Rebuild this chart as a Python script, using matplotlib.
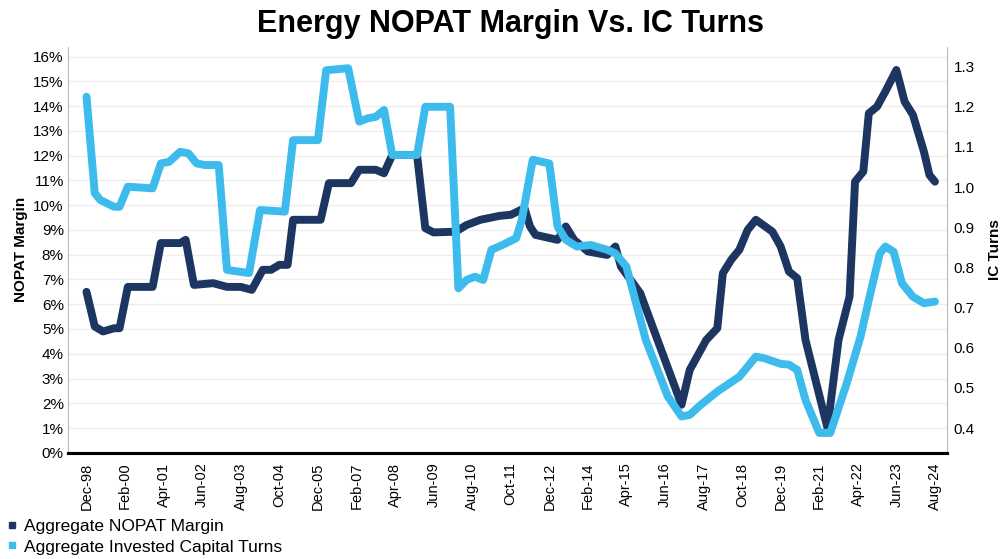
import numpy as np
import matplotlib
matplotlib.use('Agg')
import matplotlib.pyplot as plt
from matplotlib.lines import Line2D

plt.rcParams['font.family'] = ['Liberation Sans', 'DejaVu Sans']

#=================================================================
# months counted from Dec-98
tick_labels = ['Dec-98', 'Feb-00', 'Apr-01', 'Jun-02', 'Aug-03', 'Oct-04', 'Dec-05',
               'Feb-07', 'Apr-08', 'Jun-09', 'Aug-10', 'Oct-11', 'Dec-12', 'Feb-14',
               'Apr-15', 'Jun-16', 'Aug-17', 'Oct-18', 'Dec-19', 'Feb-21', 'Apr-22',
               'Jun-23', 'Aug-24']
tick_months = [0, 14, 28, 42, 56, 70, 84, 98, 112, 126, 140, 154, 168, 182,
               196, 210, 224, 238, 252, 266, 280, 294, 308]

# Aggregate NOPAT Margin (%)
nopat_month = [0, 3, 6, 10, 12, 15, 24, 27, 34, 36, 39, 46, 51, 56, 60, 64, 67, 70,
               73, 75, 85, 88, 96, 99, 105, 108, 111, 120, 123, 126, 134, 138, 143,
               150, 154, 159, 161, 163, 171, 174, 177, 182, 189, 192, 194, 201, 216,
               219, 225, 229, 231, 234, 237, 240, 243, 249, 252, 255, 258, 261, 269,
               273, 277, 279, 282, 284, 287, 290, 294, 297, 300, 304, 306, 308]
nopat = [6.5, 5.1, 4.9, 5.03, 5.03, 6.7, 6.7, 8.47, 8.47, 8.6, 6.78, 6.85, 6.7, 6.7,
         6.58, 7.39, 7.39, 7.59, 7.59, 9.41, 9.41, 10.89, 10.89, 11.43, 11.43, 11.29,
         12.03, 12.03, 9.07, 8.9, 8.93, 9.2, 9.41, 9.57, 9.61, 9.88, 9.14, 8.8, 8.6,
         9.14, 8.6, 8.13, 7.99, 8.33, 7.52, 6.45, 1.94, 3.35, 4.56, 5.03, 7.25, 7.79,
         8.2, 9.0, 9.41, 8.93, 8.33, 7.32, 7.05, 4.56, 1.0, 4.56, 6.31, 10.95, 11.36,
         13.71, 13.98, 14.59, 15.46, 14.18, 13.65, 12.16, 11.22, 10.95]

# Aggregate Invested Capital Turns
turns_month = [0, 3, 5, 10, 12, 15, 24, 27, 30, 34, 37, 40, 43, 48, 51, 59, 63, 72,
               75, 84, 87, 95, 99, 102, 105, 108, 111, 120, 123, 132, 135, 138, 141,
               144, 147, 151, 156, 158, 162, 168, 171, 174, 178, 183, 189, 192, 196,
               203, 211, 216, 219, 223, 229, 237, 243, 246, 252, 255, 258, 261, 266,
               270, 276, 281, 284, 288, 290, 293, 296, 300, 304, 308]
turns = [1.225, 0.985, 0.968, 0.951, 0.951, 1.001, 0.997, 1.059, 1.063, 1.088, 1.084,
         1.059, 1.055, 1.055, 0.794, 0.786, 0.943, 0.939, 1.117, 1.117, 1.291, 1.296,
         1.163, 1.171, 1.175, 1.192, 1.080, 1.080, 1.200, 1.200, 0.748, 0.769, 0.777,
         0.769, 0.844, 0.856, 0.873, 0.918, 1.068, 1.059, 0.902, 0.869, 0.852, 0.856,
         0.844, 0.835, 0.802, 0.620, 0.479, 0.429, 0.433, 0.458, 0.491, 0.528, 0.578,
         0.574, 0.560, 0.558, 0.545, 0.470, 0.388, 0.388, 0.512, 0.628, 0.719, 0.835,
         0.852, 0.839, 0.761, 0.727, 0.711, 0.715]

dark = '#1C3661'
light = '#3DBBEC'

#=================================================================
fig = plt.figure(figsize=(10.08, 5.59), dpi=100)
ax = fig.add_axes([0.0675, 0.19, 0.8715, 0.726])
ax2 = ax.twinx()

ax.plot(nopat_month, nopat, color=dark, lw=5.7, solid_joinstyle='round', solid_capstyle='round')
ax2.plot(turns_month, turns, color=light, lw=5.7, solid_joinstyle='round', solid_capstyle='round')

ax.set_xlim(-6.7, 312.2)
ax.set_ylim(0, 16.39)
ax2.set_ylim(0.3385, 1.349)

ax.set_yticks(np.arange(0, 17, 1))
ax.set_yticklabels(['%d%%' % v for v in range(17)], fontsize=11)
ax2.set_yticks(np.arange(0.4, 1.31, 0.1))
ax2.set_yticklabels(['%.1f' % v for v in np.arange(0.4, 1.31, 0.1)], fontsize=11)
ax.set_xticks(tick_months)
ax.set_xticklabels(tick_labels, rotation=90, fontsize=10.5)

ax.tick_params(axis='both', length=0)
ax.tick_params(axis='y', pad=3)
ax.tick_params(axis='x', pad=7)
ax2.tick_params(axis='y', length=0, pad=5)

ax.grid(axis='y', color='#EDEDED', lw=0.9)
ax.set_axisbelow(True)

for a in (ax, ax2):
    a.spines['top'].set_visible(False)
    a.spines['left'].set_color('#BFBFBF')
    a.spines['right'].set_color('#BFBFBF')
    a.spines['bottom'].set_color('black')
    a.spines['bottom'].set_linewidth(2.2)

ax.set_ylabel('NOPAT Margin', fontsize=11, fontweight='bold', labelpad=4)
ax2.set_ylabel('IC Turns', fontsize=11, fontweight='bold', labelpad=10)

fig.text(0.506, 0.957, 'Energy NOPAT Margin Vs. IC Turns', ha='center', va='center',
         fontsize=22, fontweight='bold')

handles = [Line2D([], [], ls='none', marker='s', ms=4, color=dark),
           Line2D([], [], ls='none', marker='s', ms=4, color=light)]
fig.legend(handles, ['Aggregate NOPAT Margin', 'Aggregate Invested Capital Turns'],
           loc='upper left', bbox_to_anchor=(0.0, 0.084), frameon=False,
           handlelength=0.6, handletextpad=0.4, labelspacing=0.3, borderaxespad=0.0,
           prop={'size': 12.5})

fig.savefig('out.png', dpi=100)
